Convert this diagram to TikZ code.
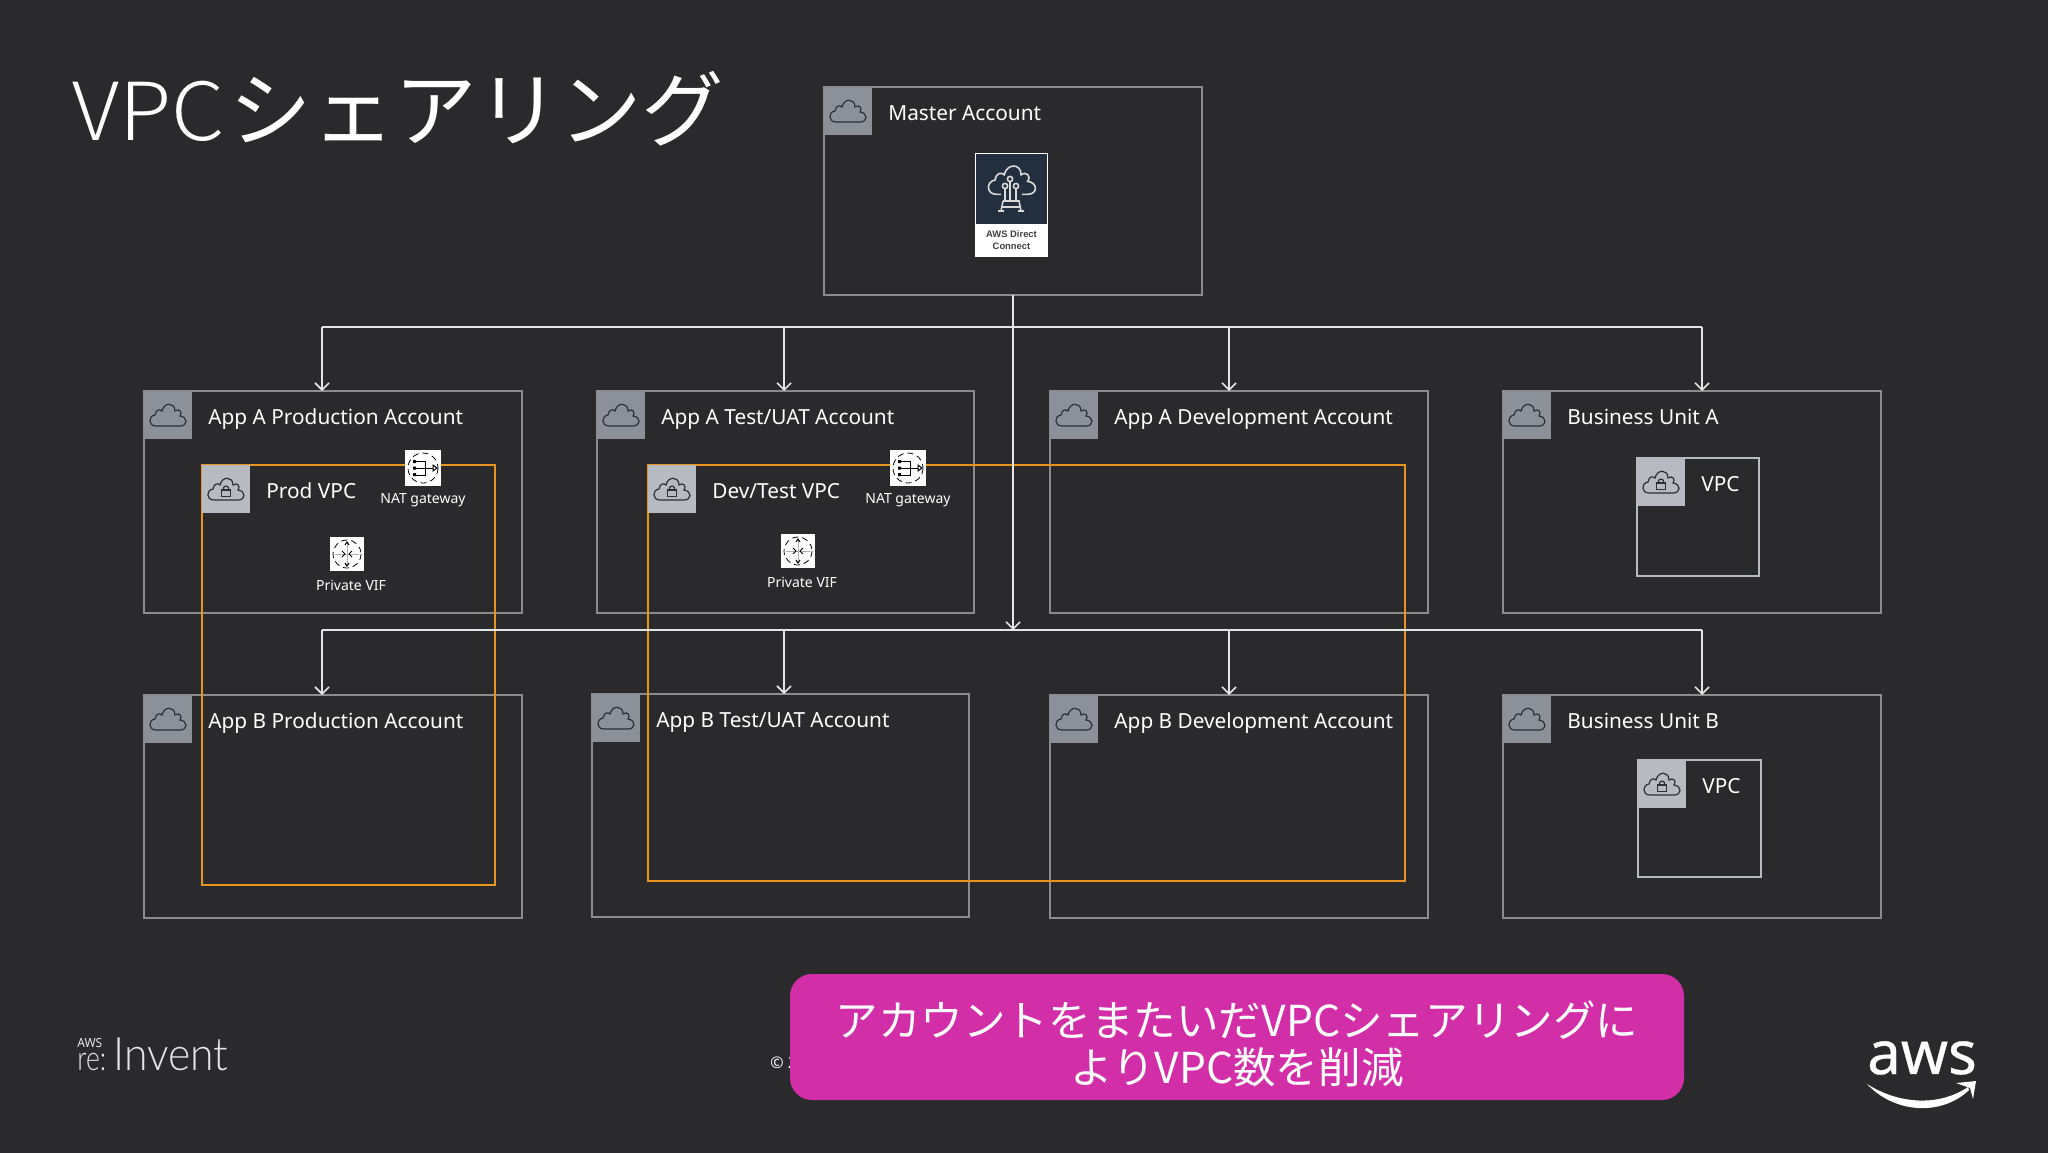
\documentclass[tikz,border=0pt]{standalone}
\usepackage{fontspec}
\setmainfont{Noto Sans}
\newfontfamily\cjk{Noto Sans CJK JP}
\newfontfamily\cjkthin{Noto Sans CJK JP Light}
\newfontfamily\thinlogo{Lato Light}
\newfontfamily\dcbold{Liberation Sans}
\newfontfamily\awsfont{Noto Sans}[FakeBold=0.6]
\usetikzlibrary{arrows.meta}

\definecolor{bg}{HTML}{2A2A2C}
\definecolor{acctgray}{HTML}{8C8C8C}
\definecolor{headgray}{HTML}{8C9099}
\definecolor{lockgray}{HTML}{B7BAC0}
\definecolor{vpcorange}{HTML}{E8951F}
\definecolor{callout}{HTML}{D22EA8}
\definecolor{icondark}{HTML}{2C2F36}
\definecolor{dcnavy}{HTML}{232F3E}

\newcommand{\cloudpath}{(-12,11) .. controls (-20,11) and (-20,1) .. (-13,0)
      .. controls (-12,-6) and (-8,-6) .. (-6,-4)
      .. controls (-4,-13) and (7,-13) .. (7,-4)
      .. controls (11,-7) and (15,-3) .. (12,1)
      .. controls (20,2) and (20,11) .. (12,11) -- cycle}

\tikzset{
  box/.style={draw=acctgray, line width=0.8pt, inner sep=0pt, outer sep=0pt, anchor=north west},
  vpcline/.style={draw=vpcorange, line width=1pt, inner sep=0pt, outer sep=0pt, anchor=north west},
  thinbox/.style={box, draw=lockgray},
  head/.style={fill=headgray, inner sep=0pt, outer sep=0pt, minimum size=24pt, anchor=north west},
  lockhead/.style={head, fill=lockgray},
  ttl/.style={text=white, anchor=base west, inner sep=0pt, font=\fontsize{10.4}{13}\selectfont},
  small/.style={text=white, anchor=base, inner sep=0pt, font=\fontsize{7}{9}\selectfont},
  link/.style={draw=white!90!black, line width=0.8pt},
  arr/.style={link, -{Straight Barb[length=3.5pt,width=7pt]}},
  icon/.style={fill=white, inner sep=0pt, outer sep=0pt, minimum size=#1*0.5pt},
  logotext/.style={text=white!90!black, anchor=base west, inner sep=0pt},
  cloud/.pic={
    \draw[pic actions] \cloudpath;
  },
  lockcloud/.pic={
    \draw[pic actions] \cloudpath;
    \draw[pic actions] (-4.5,1) rectangle (4.5,7.5);
    \draw[pic actions] (-2.5,1) -- (-2.5,-1) .. controls (-2.5,-3.5) and (2.5,-3.5) .. (2.5,-1) -- (2.5,1);
  },
  natglyph/.pic={
    \draw[black, line width=0.4pt, densely dashed] (0,0) circle (15);
    \draw[black, line width=0.5pt] (-9,-7) -- (2,-7) -- (2,7) -- (-9,7) (-9,0) -- (10,0);
    \fill[black] (-10,-8) rectangle (-7,-5) (-10,-1.5) rectangle (-7,1.5) (-10,5) rectangle (-7,8);
    \draw[black, line width=0.5pt] (10,-3) -- (14,0) -- (10,3) -- cycle;
  },
  vifglyph/.pic={
    \draw[black, line width=0.4pt, densely dashed] (0,0) circle (14);
    \draw[gray!60, line width=0.4pt] (-12,0) -- (12,0) (0,-12) -- (0,12);
    \draw[black, line width=0.5pt] (-5,-3) -- (-2,0) -- (-5,3) (5,-3) -- (2,0) -- (5,3);
    \draw[black, line width=0.5pt] (-2,-9) -- (0,-12) -- (2,-9) (-2,9) -- (0,12) -- (2,9);
  }
}

% name, left, top, right, bottom, title, box style, head style, pic
\newcommand{\acctbox}[9]{
  \node[#7, minimum width=(#4-#2)*0.5pt, minimum height=(#5-#3)*0.5pt] (#1) at (#2,#3) {};
  \node[#8] (#1h) at (#2,#3) {};
  \pic[draw=icondark, line width=0.6pt] at (#1h.center) {#9};
  \node[ttl] (#1t) at (#2+64,#3+33.5) {#6};
}

\begin{document}
\begin{tikzpicture}[x=0.5pt, y=-0.5pt]
  \useasboundingbox (0,0) rectangle (2048,1152);
  \fill[bg] (-6,-6) rectangle (2054,1158);

  % title
  \node[text=white, anchor=base west, inner sep=0pt] (title) at (72,140)
    {\fontsize{40}{41}\selectfont\cjkthin\scalebox{1.065}[1]{VPC}\hspace{2.5pt}\fontsize{41.2}{41}\selectfont\cjk シェアリング};

  % accounts
  \acctbox{master}{824}{87}{1202}{295}{Master Account}{box}{head}{cloud}
  \acctbox{aProd}{144}{391}{522}{613}{App A Production Account}{box}{head}{cloud}
  \acctbox{aTest}{597}{391}{974}{613}{App A Test/UAT Account}{box}{head}{cloud}
  \acctbox{aDev}{1050}{391}{1428}{613}{App A Development Account}{box}{head}{cloud}
  \acctbox{buA}{1503}{391}{1881}{613}{Business Unit A}{box}{head}{cloud}
  \acctbox{bProd}{144}{695}{522}{918}{App B Production Account}{box}{head}{cloud}
  \acctbox{bTest}{592}{694}{969}{917}{App B Test/UAT Account}{box}{head}{cloud}
  \acctbox{bDev}{1050}{695}{1428}{918}{App B Development Account}{box}{head}{cloud}
  \acctbox{buB}{1503}{695}{1881}{918}{Business Unit B}{box}{head}{cloud}

  % shared VPCs
  \acctbox{prodVpc}{202}{465}{495}{885}{Prod VPC}{vpcline}{lockhead}{lockcloud}
  \acctbox{devVpc}{648}{465}{1405}{881}{Dev/Test VPC}{vpcline}{lockhead}{lockcloud}
  \acctbox{vpcA}{1637}{458}{1759}{576}{VPC}{thinbox}{lockhead}{lockcloud}
  \acctbox{vpcB}{1638}{760}{1761}{877}{VPC}{thinbox}{lockhead}{lockcloud}

  % connectors
  \coordinate (busB) at (1013,630);
  \coordinate (a1) at (322,327);
  \coordinate (a2) at (784,327);
  \coordinate (a3) at (1229,327);
  \coordinate (a4) at (1702,327);
  \coordinate (b1) at (322,630);
  \coordinate (b2) at (784,630);
  \coordinate (b3) at (1229,630);
  \coordinate (b4) at (1702,630);
  \draw[link] (a1) -- (a4);
  \draw[link] (b1) -- (b4);
  \draw[arr] (master.south) -- (busB);
  \draw[arr] (a1) -- (a1 |- aProd.north);
  \draw[arr] (a2) -- (a2 |- aTest.north);
  \draw[arr] (a3) -- (a3 |- aDev.north);
  \draw[arr] (a4) -- (a4 |- buA.north);
  \draw[arr] (b1) -- (b1 |- bProd.north);
  \draw[arr] (b2) -- (b2 |- bTest.north);
  \draw[arr] (b3) -- (b3 |- bDev.north);
  \draw[arr] (b4) -- (b4 |- buB.north);

  % direct connect icon
  \node[fill=white, inner sep=0pt, outer sep=0pt, minimum width=36.5pt, minimum height=52pt, anchor=north] (dc) at (1011.5,153) {};
  \node[fill=dcnavy, inner sep=0pt, outer sep=0pt, minimum width=35.5pt, minimum height=35pt, anchor=north] (dcTop) at (1011.5,154) {};
  \pic[draw=white!85!black, line width=0.8pt, scale=1.3] at (1012,180) {cloud};
  \fill[dcnavy] (1001,190) rectangle (1022,196);
  \draw[white!85!black, line width=0.8pt] (1010,179) circle (2.6) (1005,186) circle (2.6) (1016,186) circle (2.6)
    (1010,182) -- (1010,201) (1005,189) -- (1005,201) (1016,189) -- (1016,201)
    (1003,201) -- (1019,201) -- (1021,211) (1003,201) -- (1001,211) (998,211) -- (1004,211) (1018,211) -- (1024,211) (1001,207) -- (1021,207);
  \node[text=black!75, align=center, inner sep=0pt, font=\dcbold\bfseries\fontsize{4.7}{6.3}\selectfont] (dcLabel) at (1011.5,240) {AWS Direct\\Connect};

  % vpc icons
  \node[icon=36] (nat1) at (423,468) {};
  \pic at (nat1) {natglyph};
  \node[small] (nat1t) at (423,503) {NAT gateway};
  \node[icon=34] (vif1) at (347,554) {};
  \pic at (vif1) {vifglyph};
  \node[small] (vif1t) at (351,590) {Private VIF};
  \node[icon=36] (nat2) at (908,468) {};
  \pic at (nat2) {natglyph};
  \node[small] (nat2t) at (908,503) {NAT gateway};
  \node[icon=34] (vif2) at (798,551) {};
  \pic at (vif2) {vifglyph};
  \node[small] (vif2t) at (802,587) {Private VIF};

  % footer
  \node[text=white, anchor=base west, inner sep=0pt, font=\fontsize{8}{9}\selectfont] (copy) at (770,1068) {© 2};
  \node[fill=callout, rounded corners=11pt, inner sep=0pt, outer sep=0pt, minimum width=447pt, minimum height=63pt, anchor=north west] (note) at (790,974) {};
  \node[text=white, align=center, inner sep=0pt, font=\cjk\fontsize{21.3}{23.5}\selectfont] (noteText) at (1237,1044) {アカウントをまたいだVPCシェアリングに\\よりVPC数を削減};

  \node[logotext, font=\fontsize{6.3}{7}\selectfont] (awsSmall) at (77,1047) {\scalebox{0.95}[1]{AWS}};
  \node[logotext, font=\thinlogo\fontsize{17}{17}\selectfont] (reText) at (77,1070) {\scalebox{0.78}[1]{re:}};
  \node[logotext, font=\thinlogo\fontsize{23}{23}\selectfont] (inventText) at (113,1070) {\scalebox{0.93}[1]{Invent}};

  \node[text=white, anchor=base, inner sep=0pt, font=\awsfont\fontsize{30}{30}\selectfont] (awsLogo) at (1922,1074) {aws};
  \fill[white] (1867,1084) .. controls (1900,1105) and (1940,1106) .. (1968,1087)
    -- (1969,1090) .. controls (1942,1116) and (1895,1114) .. (1867,1084) -- cycle;
  \fill[white] (1956,1083) -- (1976,1081) -- (1973,1099) -- (1970,1088) -- cycle;
\end{tikzpicture}
\end{document}
